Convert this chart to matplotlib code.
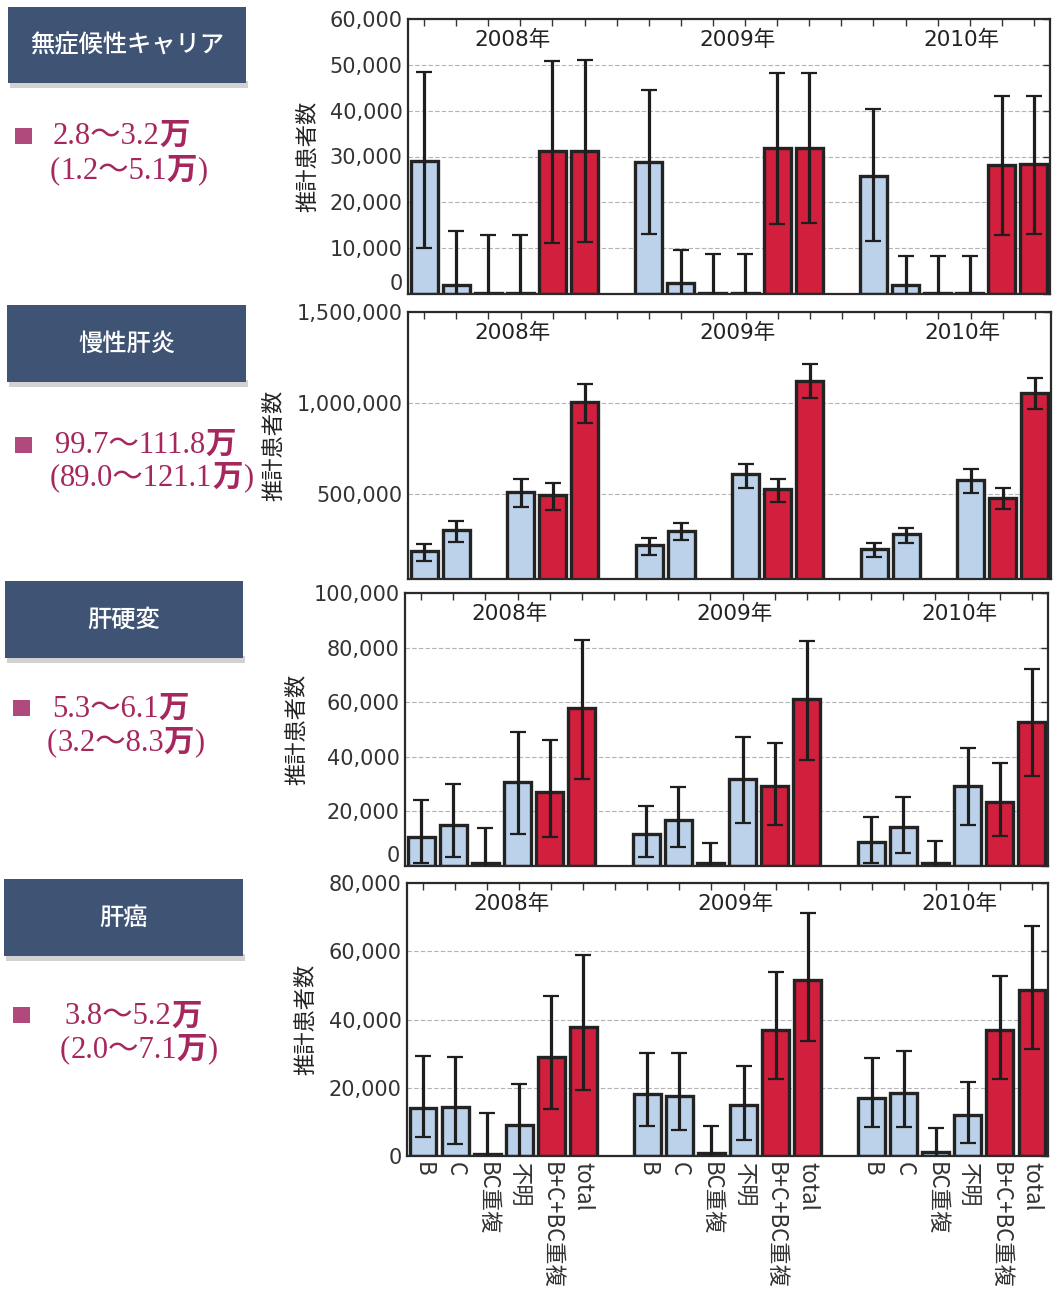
import numpy as np
import matplotlib.pyplot as plt
from matplotlib.patches import Rectangle
from matplotlib.ticker import FuncFormatter

plt.rcParams['font.family'] = ['DejaVu Sans', 'Noto Sans CJK JP']
JP = ['Noto Sans CJK JP', 'DejaVu Sans']
SERIF = ['Liberation Serif', 'Noto Sans CJK JP']

categories = ['B', 'C', 'BC重複', '不明', 'B+C+BC重複', 'total']
years = ['2008年', '2009年', '2010年']

# estimated patients per category, 2008 / 2009 / 2010 (6 values each)
carrier_val = [29000, 2000, 300, 300, 31100, 31200,
               28900, 2500, 200, 200, 31800, 31900,
               25800, 2000, 200, 200, 28200, 28300]
carrier_lo = [10000, -9800, -12300, -12300, 11200, 11300,
              13200, -4500, -8300, -8300, 15300, 15400,
              11600, -4300, -7900, -7900, 12900, 13000]
carrier_hi = [48500, 13800, 12900, 12900, 50900, 51000,
              44500, 9500, 8700, 8700, 48200, 48300,
              40400, 8300, 8300, 8300, 43100, 43200]

hepatitis_val = [190500, 304000, 3000, 514600, 496000, 1005000,
                 222000, 301000, 3000, 609500, 529000, 1124000,
                 199000, 281000, 3000, 577000, 480000, 1053000]
hepatitis_lo = [135500, 236300, 0, 432000, 414000, 890000,
                165000, 250000, 0, 533000, 460000, 1029000,
                158000, 232000, 0, 505000, 418000, 967000]
hepatitis_hi = [225000, 355300, 8000, 584000, 564000, 1104000,
                262000, 341000, 8000, 666000, 584000, 1213000,
                232000, 317000, 8000, 637000, 536000, 1139000]

cirrhosis_val = [10700, 15000, 1200, 30600, 27200, 57700,
                 11700, 16800, 1000, 31700, 29400, 61100,
                 8900, 14400, 1200, 29300, 23500, 52800]
cirrhosis_lo = [1200, 3400, -11400, 11700, 10700, 31700,
                3200, 6800, -6500, 15900, 15200, 39000,
                1200, 4900, -6700, 15000, 11100, 32900]
cirrhosis_hi = [24100, 30200, 13800, 49100, 46200, 82900,
                22100, 29000, 8500, 47300, 45100, 82400,
                18000, 25400, 9100, 43400, 37600, 72100]

cancer_val = [14200, 14300, 500, 9100, 28900, 37800,
              18200, 17700, 800, 15000, 36800, 51600,
              17100, 18600, 1200, 12000, 36800, 48700]
cancer_lo = [5500, 3500, -11500, -2800, 13800, 19400,
             8800, 7600, -7200, 4700, 22500, 33800,
             8400, 8400, -5700, 3700, 22500, 31400]
cancer_hi = [29300, 28900, 12500, 21000, 47000, 58800,
             30300, 30300, 8800, 26500, 53800, 71200,
             28700, 30900, 8100, 21700, 52800, 67300]

disease_names = ['無症候性キャリア', '慢性肝炎', '肝硬変', '肝癌']
range_main = ['2.8〜3.2', '99.7〜111.8', '5.3〜6.1', '3.8〜5.2']
range_ci = ['1.2〜5.1', '89.0〜121.1', '3.2〜8.3', '2.0〜7.1']

W, H = 1064, 1299
fig = plt.figure(figsize=(W / 100, H / 100), dpi=100)
fig.patch.set_facecolor('white')

BLUE = '#bcd2ea'
RED = '#d11f3d'
EDGE = '#232323'
TXT = '#333333'


def px_axes(x0, y0, x1, y1):
    return fig.add_axes([x0 / W, 1 - y1 / H, (x1 - x0) / W, (y1 - y0) / H])


# panel rectangles in pixels: left, top, right, bottom; ylab_x = right edge of y label
panels = [
    dict(rect=(408, 19, 1050, 294), val=carrier_val, lo=carrier_lo, hi=carrier_hi,
         ylim=(0, 60000), ticks=np.arange(0, 60001, 10000), ylab_x=319, lift0=True),
    dict(rect=(408, 312, 1051, 579), val=hepatitis_val, lo=hepatitis_lo, hi=hepatitis_hi,
         ylim=(35000, 1500000), ticks=[500000, 1000000, 1500000], ylab_x=285, lift0=False),
    dict(rect=(405, 593, 1048, 866), val=cirrhosis_val, lo=cirrhosis_lo, hi=cirrhosis_hi,
         ylim=(0, 100000), ticks=np.arange(0, 100001, 20000), ylab_x=308, lift0=True),
    dict(rect=(407, 883, 1048, 1156), val=cancer_val, lo=cancer_lo, hi=cancer_hi,
         ylim=(0, 80000), ticks=np.arange(0, 80001, 20000), ylab_x=317, lift0=False),
]

xpos = np.array([y * 7 + c for y in range(len(years)) for c in range(len(categories))])
bar_colors = [BLUE, BLUE, BLUE, BLUE, RED, RED] * len(years)
xlabels = [''] * 20
for p, name in zip(xpos, categories * len(years)):
    xlabels[p] = name

for i, p in enumerate(panels):
    x0, y0, x1, y1 = p['rect']
    ax = px_axes(x0, y0, x1, y1)
    val = np.array(p['val'], dtype=float)
    lo = np.array(p['lo'], dtype=float)
    hi = np.array(p['hi'], dtype=float)

    ax.bar(xpos, val, width=0.84, color=bar_colors, edgecolor=EDGE,
           linewidth=2.4, zorder=2)
    ax.errorbar(xpos, val, yerr=[val - lo, hi - val], fmt='none', ecolor='#1e1e1e',
                elinewidth=2.3, capsize=5.5, capthick=1.6, zorder=3)

    ax.set_xlim(-0.5, 19.5)
    ax.set_ylim(*p['ylim'])
    ax.set_yticks(p['ticks'])
    ax.yaxis.set_major_formatter(FuncFormatter(lambda v, _: f'{int(v):,}'))
    ax.grid(axis='y', linestyle=(0, (4, 2)), color='#b3b3b3', linewidth=0.8, zorder=0)
    ax.set_axisbelow(True)

    ax.set_xticks(np.arange(20))
    if i == 3:
        ax.set_xticklabels(xlabels, rotation=270, fontsize=16, color=TXT, va='top',
                           family=JP)
    else:
        ax.set_xticklabels([])
    ax.tick_params(axis='x', bottom=False, top=True, direction='in', length=5,
                   width=1.0, color='#333333', pad=4)
    ax.tick_params(axis='y', left=False, right=True, direction='in', length=5,
                   width=1.0, color='#333333', labelsize=15, labelcolor=TXT, pad=4)
    if p['lift0']:
        # keep the zero label clear of the panel below
        ax.get_yticklabels()[0].set_va('bottom')
    for s in ax.spines.values():
        s.set_color('#2a2a2a')
        s.set_linewidth(1.6)

    h_px = y1 - y0
    for k, yr in enumerate(years):
        ax.text(k * 7 + 2.75, 1 - 21 / h_px, yr, transform=ax.get_xaxis_transform(),
                ha='center', va='center', fontsize=15.5, color='#222222')

    ax.set_ylabel('推計患者数', fontsize=16, color='#222222', family=JP)
    ax.yaxis.set_label_coords((p['ylab_x'] - x0) / (x1 - x0), 0.5)

# left-hand captions, drawn in pixel coordinates
ov = fig.add_axes([0, 0, 1, 1], zorder=-1)
ov.set_xlim(0, W)
ov.set_ylim(H, 0)
ov.axis('off')

boxes = [(8, 7, 246, 83), (7, 305, 246, 382), (5, 581, 243, 658), (4, 879, 243, 956)]
bullets = [(15, 128), (15, 437), (13, 700), (13, 1007)]
line1 = [(53, 136), (55, 445), (52, 709), (65, 1017)]
line2 = [(50, 171), (50, 478), (47, 743), (60, 1050)]
MAG = '#a5275e'


def chain(x, y, parts):
    # consecutive pieces of one caption line, each placed after the previous one
    prev = ov.text(x, y, parts[0][0], ha='left', va='center', fontsize=22, color=MAG,
                   family=SERIF, fontweight=parts[0][1])
    for txt, wt in parts[1:]:
        prev = ov.annotate(txt, xy=(1, 0), xycoords=prev, ha='left', va='bottom',
                           fontsize=22, color=MAG, family=SERIF, fontweight=wt)


for k in range(4):
    bx0, by0, bx1, by1 = boxes[k]
    ov.add_patch(Rectangle((bx0 + 2, by1 - 2), bx1 - bx0, 7, color='#d2d2d2', lw=0, zorder=1))
    ov.add_patch(Rectangle((bx0, by0), bx1 - bx0, by1 - by0, color='#3f5375', lw=0, zorder=2))
    ov.text((bx0 + bx1) / 2, (by0 + by1) / 2, disease_names[k], ha='center', va='center',
            fontsize=17.5, color='white', style='italic', fontweight='medium',
            family=JP, zorder=3)

    sx, sy = bullets[k]
    ov.add_patch(Rectangle((sx, sy), 17, 16, color='#b04a7c', lw=0))
    chain(*line1[k], [(range_main[k], 'normal'), ('万', 'bold')])
    chain(*line2[k], [('(', 'normal'), (range_ci[k], 'normal'), ('万', 'bold'), (')', 'normal')])

fig.savefig('out.png', dpi=100)
